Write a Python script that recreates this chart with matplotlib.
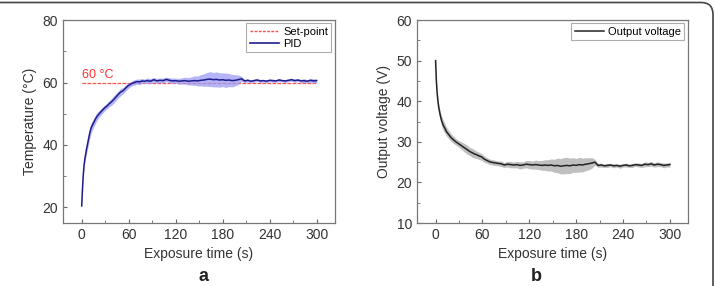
import matplotlib
matplotlib.use("Agg")
import matplotlib.pyplot as plt
from matplotlib.patches import FancyBboxPatch
from matplotlib.lines import Line2D

plt.rcParams["font.family"] = ["Liberation Sans", "DejaVu Sans"]

# panel a: temperature under PID control
t_a = [0, 1, 2, 3, 4, 6, 8, 10, 12, 14, 16, 18, 20, 23, 26, 29, 32, 35, 38, 41,
       44, 47, 50, 53, 56, 59, 62, 65, 68, 71, 74, 77, 80, 84, 88, 92, 96, 100,
       104, 108, 112, 116, 120, 124, 128, 132, 136, 140, 144, 148, 152, 156,
       160, 164, 168, 172, 176, 180, 184, 188, 192, 196, 200, 204, 208, 212,
       216, 220, 224, 228, 232, 236, 240, 244, 248, 252, 256, 260, 264, 268,
       272, 276, 280, 284, 288, 292, 296, 300]
temp = [20.5, 26.0, 30.5, 33.5, 35.5, 38.5, 41.0, 43.5, 45.5, 46.5, 47.5, 48.5,
        49.3, 50.2, 51.0, 51.8, 52.4, 53.2, 53.8, 54.6, 55.4, 56.3, 57.0, 57.4,
        58.2, 58.9, 59.4, 59.8, 60.1, 60.3, 60.2, 60.5, 60.4, 60.6, 60.4, 60.9,
        60.5, 60.7, 60.6, 61.0, 60.7, 60.5, 60.6, 60.4, 60.5, 60.6, 60.4, 60.5,
        60.6, 60.5, 60.7, 60.8, 61.0, 61.1, 60.9, 61.0, 60.8, 60.9, 60.7, 60.8,
        60.6, 60.7, 60.9, 61.2, 60.5, 60.7, 60.4, 60.6, 60.8, 60.5, 60.6, 60.4,
        60.7, 60.6, 60.5, 60.8, 60.6, 60.5, 60.7, 60.9, 60.6, 60.8, 60.5, 60.6,
        60.4, 60.7, 60.5, 60.6]
temp_err = [0.3, 0.4, 0.6, 0.8, 1.0, 1.4, 1.6, 1.8, 1.6, 1.5, 1.4, 1.3,
            1.2, 1.1, 1.0, 1.0, 0.9, 1.0, 1.1, 1.2, 1.2, 1.1, 1.2, 1.0,
            1.0, 0.9, 0.8, 0.8, 0.9, 0.8, 0.9, 0.8, 0.7, 0.9, 0.8, 0.7,
            0.8, 0.7, 0.8, 0.7, 0.8, 0.9, 0.8, 0.9, 1.0, 1.1, 1.2, 1.3,
            1.5, 1.6, 1.8, 2.0, 2.2, 2.4, 2.3, 2.4, 2.3, 2.2, 2.3, 2.1,
            2.0, 1.8, 1.5, 0.8, 0.5, 0.5, 0.4, 0.5, 0.4, 0.5, 0.4, 0.5,
            0.4, 0.5, 0.4, 0.5, 0.4, 0.5, 0.4, 0.5, 0.5, 0.4, 0.5, 0.6,
            0.5, 0.6, 0.7, 0.6]
setpoint = 60

# panel b: output voltage
t_b = t_a
volt = [50.0, 45.0, 42.0, 40.0, 38.5, 36.5, 35.0, 34.0, 33.3, 32.5, 32.0, 31.5,
        31.0, 30.5, 30.0, 29.6, 29.2, 28.8, 28.4, 28.0, 27.6, 27.3, 27.0, 26.8,
        26.5, 26.3, 25.8, 25.5, 25.2, 25.0, 24.9, 24.8, 24.7, 24.6, 24.3, 24.5,
        24.4, 24.3, 24.4, 24.2, 24.3, 24.5, 24.4, 24.3, 24.4, 24.3, 24.2, 24.3,
        24.2, 24.3, 24.1, 24.2, 24.0, 24.1, 24.2, 24.1, 24.3, 24.2, 24.4, 24.3,
        24.5, 24.6, 24.8, 25.0, 24.2, 24.3, 24.1, 24.2, 24.3, 24.1, 24.2, 24.0,
        24.2, 24.3, 24.1, 24.2, 24.4, 24.3, 24.2, 24.5, 24.4, 24.6, 24.3, 24.5,
        24.4, 24.2, 24.3, 24.4]
volt_err = [0.2, 0.3, 0.5, 0.6, 0.8, 1.0, 1.2, 1.3, 1.2, 1.1, 1.0, 1.0,
            0.9, 0.9, 0.8, 0.8, 0.9, 1.0, 1.1, 1.1, 1.0, 1.1, 1.0, 0.9,
            0.9, 0.8, 0.8, 0.7, 0.7, 0.6, 0.7, 0.6, 0.6, 0.7, 0.6, 0.7,
            0.8, 0.7, 0.8, 0.9, 0.8, 0.9, 1.0, 1.0, 1.1, 1.1, 1.2, 1.3,
            1.4, 1.5, 1.6, 1.8, 1.9, 2.0, 2.0, 1.9, 1.8, 1.7, 1.8, 1.7,
            1.6, 1.5, 1.3, 0.7, 0.5, 0.5, 0.4, 0.5, 0.4, 0.5, 0.4, 0.5,
            0.4, 0.5, 0.4, 0.5, 0.4, 0.5, 0.5, 0.6, 0.5, 0.6, 0.5, 0.6,
            0.5, 0.6, 0.5, 0.6]

xticks = [0, 60, 120, 180, 240, 300]

fig = plt.figure(figsize=(7.15, 2.86), dpi=100)

# rounded frame around the figure (only top and right edges visible)
frame = FancyBboxPatch((-0.5, -0.5), 7.63, 3.335,
                       boxstyle="round,pad=0,rounding_size=0.12",
                       transform=fig.dpi_scale_trans, facecolor="none",
                       edgecolor="#444444", linewidth=1.2)
fig.patches.append(frame)

ax1 = fig.add_axes([0.088, 0.220, 0.380, 0.710])
ax2 = fig.add_axes([0.583, 0.220, 0.379, 0.710])

lo = [m - e for m, e in zip(temp, temp_err)]
hi = [m + e for m, e in zip(temp, temp_err)]
ax1.plot([0, 300], [setpoint, setpoint], color="#ff5050", lw=0.9, ls=(0, (3, 1)), zorder=1)
ax1.fill_between(t_a, lo, hi, color="#9b9bf5", alpha=0.75, lw=0, zorder=2)
ax1.plot(t_a, temp, color="#1c1c8c", lw=1.1, zorder=3)
ax1.text(0, 61.6, "60 °C", color="#ff3030", fontsize=9)
ax1.set_ylim(15, 80)
ax1.set_yticks([20, 40, 60, 80])
ax1.set_ylabel("Temperature (°C)", fontsize=10, color="#333333")

lo = [m - e for m, e in zip(volt, volt_err)]
hi = [m + e for m, e in zip(volt, volt_err)]
ax2.fill_between(t_b, lo, hi, color="#b0b0b0", alpha=0.8, lw=0, zorder=2)
ax2.plot(t_b, volt, color="#222222", lw=1.1, zorder=3)
ax2.set_ylim(10, 60)
ax2.set_yticks([10, 20, 30, 40, 50, 60])
ax2.set_ylabel("Output voltage (V)", fontsize=10, color="#333333")

for ax in (ax1, ax2):
    ax.set_xlim(-24, 323)
    ax.set_xticks(xticks)
    ax.set_xticks([30, 90, 150, 210, 270], minor=True)
    ax.set_xlabel("Exposure time (s)", fontsize=10, color="#333333")
    ax.tick_params(which="both", direction="in", colors="#666666",
                   labelcolor="#333333", labelsize=10)
    ax.tick_params(which="major", length=3)
    ax.tick_params(which="minor", length=2)
    for s in ax.spines.values():
        s.set_color("#777777")
        s.set_linewidth(0.9)
ax1.set_yticks([30, 50, 70], minor=True)
ax2.set_yticks([15, 25, 35, 45, 55], minor=True)

h1 = [Line2D([], [], color="#ff5050", lw=1, ls=(0, (2, 1))),
      Line2D([], [], color="#1c1c8c", lw=1.2)]
leg = ax1.legend(h1, ["Set-point", "PID"], loc="upper right", fontsize=8,
                 fancybox=False, edgecolor="#999999", handlelength=2.6,
                 borderpad=0.3, labelspacing=0.2, handletextpad=0.4,
                 borderaxespad=0.3)
leg.get_frame().set_linewidth(0.8)
h2 = [Line2D([], [], color="#222222", lw=1.1)]
leg = ax2.legend(h2, ["Output voltage"], loc="upper right", fontsize=8,
                 fancybox=False, edgecolor="#999999", handlelength=2.6,
                 borderpad=0.3, handletextpad=0.4, borderaxespad=0.3)
leg.get_frame().set_linewidth(0.8)

fig.text(0.284, 0.004, "a", ha="center", va="bottom", fontsize=13,
         fontweight="bold", color="#222222")
fig.text(0.750, 0.004, "b", ha="center", va="bottom", fontsize=13,
         fontweight="bold", color="#222222")

fig.savefig("out.png", dpi=100)
